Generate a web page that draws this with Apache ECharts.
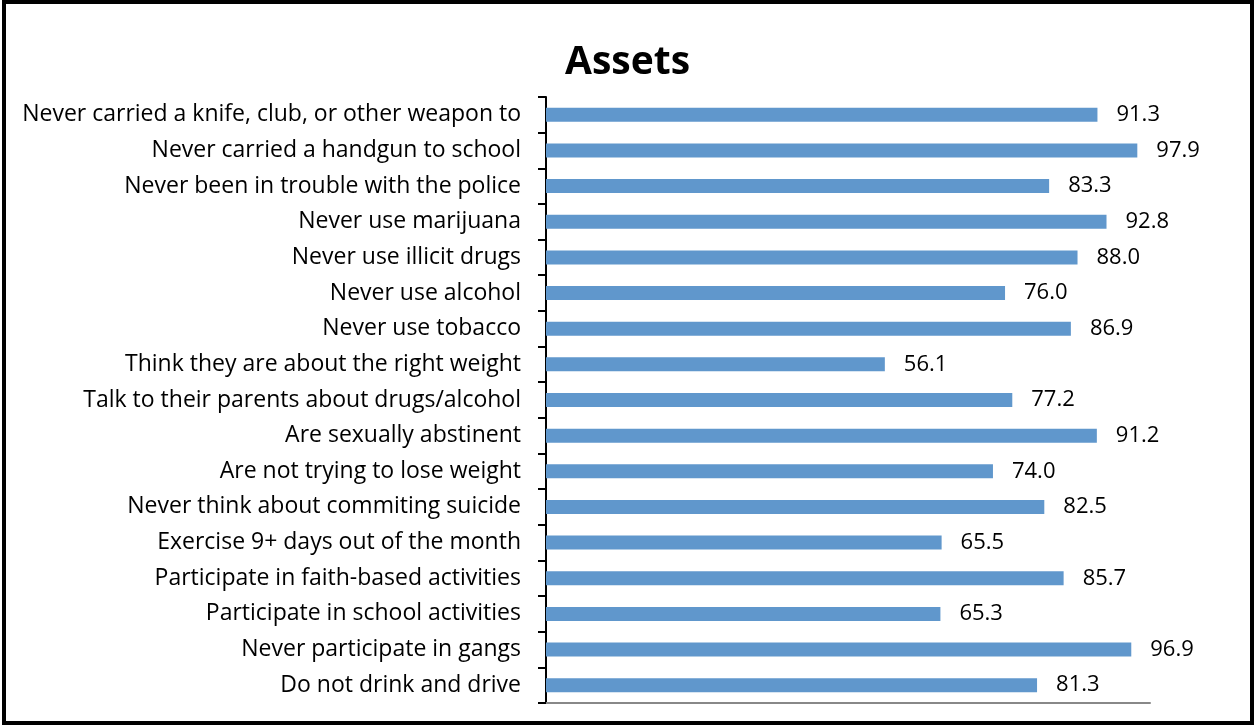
<!DOCTYPE html>
<html style="height: 100%">

<head>
  <meta charset="utf-8">
</head>

<body style="height: 100%; margin: 0; background: #fff">
  <div id="container" style="width: 1255px; height: 727px"></div>
  <script type="text/javascript" src="https://cdn.jsdelivr.net/npm/echarts@6/dist/echarts.min.js"></script>
  <script type="text/javascript">
    var categories = [
      'Never carried a knife, club, or other weapon to',
      'Never carried a handgun to school',
      'Never been in trouble with the police',
      'Never use marijuana',
      'Never use illicit drugs',
      'Never use alcohol',
      'Never use tobacco',
      'Think they are about the right weight',
      'Talk to their parents about drugs/alcohol',
      'Are sexually abstinent',
      'Are not trying to lose weight',
      'Never think about commiting suicide',
      'Exercise 9+ days out of the month',
      'Participate in faith-based activities',
      'Participate in school activities',
      'Never participate in gangs',
      'Do not drink and drive'
    ];
    var values = [91.3, 97.9, 83.3, 92.8, 88.0, 76.0, 86.9, 56.1, 77.2, 91.2, 74.0, 82.5, 65.5, 85.7, 65.3, 96.9, 81.3];

    var dom = document.getElementById("container");
    var myChart = echarts.init(dom);

    var option = {
      animation: false,
      title: {
        text: 'Assets',
        left: 'center',
        top: 38,
        textStyle: { fontSize: 39, fontWeight: 'bold', color: '#000', fontFamily: 'Open Sans' }
      },
      graphic: [{
        type: 'rect',
        shape: { x: 4, y: 2, width: 1248, height: 721 },
        style: { fill: 'none', stroke: '#000', lineWidth: 4 }
      }],
      grid: { left: 546, right: 105, top: 97, bottom: 24 },
      xAxis: {
        type: 'value',
        min: 0,
        max: 100,
        axisLine: { show: true, lineStyle: { color: '#888', width: 2 } },
        axisTick: { show: false },
        axisLabel: { show: false },
        splitLine: { show: false }
      },
      yAxis: {
        type: 'category',
        inverse: true,
        data: categories,
        axisLine: { show: true, lineStyle: { color: '#000', width: 2 } },
        axisTick: { show: true, length: 8, lineStyle: { color: '#000', width: 2 } },
        axisLabel: { color: '#000', fontSize: 23, margin: 25, fontFamily: 'Open Sans' }
      },
      series: [{
        type: 'bar',
        data: values,
        barWidth: 14,
        itemStyle: { color: '#6097CC' },
        label: {
          show: true,
          position: 'right',
          distance: 19,
          color: '#000',
          fontSize: 22,
          fontFamily: 'Open Sans',
          formatter: function (p) { return p.value.toFixed(1); }
        }
      }]
    };

    myChart.setOption(option);
  </script>
</body>

</html>
